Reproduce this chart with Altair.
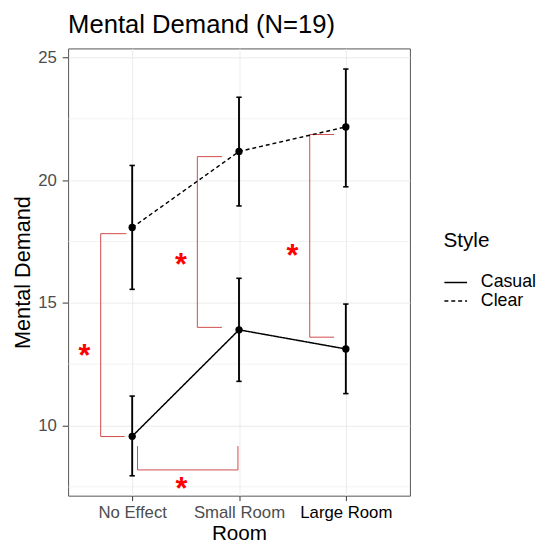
import altair as alt
import pandas as pd

FONT = "Liberation Sans"

rooms = ["No Effect", "Small Room", "Large Room"]
room_pos = [1, 2, 3]
styles = ["Casual", "Clear"]

casual_mean = [9.56, 13.90, 13.12]
casual_lo = [7.95, 11.80, 11.30]
casual_hi = [11.20, 16.00, 14.95]

clear_mean = [18.07, 21.17, 22.17]
clear_lo = [15.55, 18.95, 19.73]
clear_hi = [20.60, 23.38, 24.53]

# significance bracket segments (data coordinates)
br_x = [0.705, 0.705, 0.705, 1.05, 1.05, 1.99, 1.61, 1.61, 1.61, 2.662, 2.662, 2.662]
br_x2 = [0.705, 0.945, 0.93, 1.99, 1.05, 1.99, 1.61, 1.84, 1.84, 2.662, 2.89, 2.89]
br_y = [9.55, 17.82, 9.55, 8.19, 8.19, 8.19, 14.0, 20.96, 14.0, 13.6, 21.86, 13.6]
br_y2 = [17.82, 17.82, 9.55, 8.19, 9.16, 9.16, 20.96, 20.96, 14.0, 21.86, 21.86, 13.6]

star_x = [0.552, 1.46, 1.457, 2.50]
star_y = [13.1, 7.69, 16.83, 17.2]

major_ticks = [10, 15, 20, 25]
minor_grid = [7.5, 12.5, 17.5, 22.5]

rows = []
for i, r in enumerate(rooms):
    rows.append(dict(room=r, x=room_pos[i], Style="Casual", mean=casual_mean[i],
                     lo=casual_lo[i], hi=casual_hi[i]))
    rows.append(dict(room=r, x=room_pos[i], Style="Clear", mean=clear_mean[i],
                     lo=clear_lo[i], hi=clear_hi[i]))
df = pd.DataFrame(rows)
df["xl"] = df["x"] - 0.025
df["xr"] = df["x"] + 0.025

br_df = pd.DataFrame(dict(x=br_x, x2=br_x2, y=br_y, y2=br_y2))
star_df = pd.DataFrame(dict(x=star_x, y=star_y, t=["*"] * len(star_x)))
minor_df = pd.DataFrame(dict(y=minor_grid))

label_expr = " : ".join(
    [f"datum.value == {p} ? '{r}'" for p, r in zip(room_pos[:-1], rooms[:-1])]
) + f" : '{rooms[-1]}'"

xscale = alt.Scale(domain=[0.4, 3.6], nice=False, zero=False)
yscale = alt.Scale(domain=[7.14, 25.37], nice=False, zero=False)

xaxis = alt.Axis(
    values=room_pos, labelExpr=label_expr, title="Room",
    grid=True, gridColor="#EBEBEB", gridWidth=1,
    domain=False, tickColor="#333333", tickSize=5, tickWidth=1,
    labelFont=FONT, labelFontSize=17,
    labelColor={"condition": {"test": "datum.value == 3", "value": "#000000"}, "value": "#4D4D4D"},
    labelPadding=4, titleFont=FONT, titleFontSize=21, titleFontWeight="normal",
    titleColor="#000000", titlePadding=2,
)
yaxis = alt.Axis(
    values=major_ticks, title="Mental Demand",
    grid=True, gridColor="#EBEBEB", gridWidth=1,
    domain=False, tickColor="#333333", tickSize=6, tickWidth=1,
    labelFont=FONT, labelFontSize=17, labelColor="#4D4D4D", labelPadding=6,
    titleFont=FONT, titleFontSize=22, titleFontWeight="normal",
    titleColor="#000000", titlePadding=3,
)

base = alt.Chart(df)

minor = alt.Chart(minor_df).mark_rule(color="#EBEBEB", strokeWidth=0.6).encode(
    y=alt.Y("y:Q", scale=yscale, axis=yaxis)
)

brackets = alt.Chart(br_df).mark_rule(color="#D24A4A", strokeWidth=1).encode(
    x=alt.X("x:Q", scale=xscale, axis=xaxis),
    x2="x2:Q",
    y=alt.Y("y:Q", scale=yscale, axis=yaxis),
    y2="y2:Q",
)

ebar = base.mark_rule(color="black", strokeWidth=1.9).encode(
    x=alt.X("x:Q", scale=xscale, axis=xaxis),
    y=alt.Y("lo:Q", scale=yscale, axis=yaxis),
    y2="hi:Q",
)
cap_lo = base.mark_rule(color="black", strokeWidth=1.6).encode(
    x=alt.X("xl:Q", scale=xscale, axis=xaxis), x2="xr:Q",
    y=alt.Y("lo:Q", scale=yscale, axis=yaxis),
)
cap_hi = base.mark_rule(color="black", strokeWidth=1.6).encode(
    x=alt.X("xl:Q", scale=xscale, axis=xaxis), x2="xr:Q",
    y=alt.Y("hi:Q", scale=yscale, axis=yaxis),
)

lines = base.mark_line(color="black", strokeWidth=1.5).encode(
    x=alt.X("x:Q", scale=xscale, axis=xaxis),
    y=alt.Y("mean:Q", scale=yscale, axis=yaxis),
    strokeDash=alt.StrokeDash(
        "Style:N",
        scale=alt.Scale(domain=styles, range=[[1, 0], [4, 3]]),
        legend=alt.Legend(
            title="Style", orient="none", legendX=381, legendY=185,
            titleFont=FONT, titleFontSize=21, titleFontWeight="normal", titleColor="#000000",
            titlePadding=22, labelFont=FONT, labelFontSize=18, labelColor="#000000",
            symbolType="stroke", symbolSize=529, symbolStrokeWidth=1.5,
            symbolStrokeColor="black", labelOffset=13, clipHeight=19, rowPadding=0,
        ),
    ),
    detail="Style:N",
)

points = base.mark_circle(color="black", size=55, opacity=1).encode(
    x=alt.X("x:Q", scale=xscale, axis=xaxis),
    y=alt.Y("mean:Q", scale=yscale, axis=yaxis),
)

stars = alt.Chart(star_df).mark_text(
    color="#FF0000", font=FONT, fontSize=31, fontWeight="bold",
    baseline="alphabetic", align="center", dy=17,
).encode(
    x=alt.X("x:Q", scale=xscale, axis=xaxis),
    y=alt.Y("y:Q", scale=yscale, axis=yaxis),
    text="t:N",
)

chart = alt.layer(minor, brackets, ebar, cap_lo, cap_hi, lines, points, stars).properties(
    width=347, height=454,
    title=alt.TitleParams(
        "Mental Demand (N=19)", anchor="start", frame="group", font=FONT,
        fontSize=26, fontWeight="normal", color="#000000", baseline="alphabetic",
        offset=16, dy=26,
    ),
    autosize=alt.AutoSizeParams(type="none"),
    padding={"left": 61, "top": 37, "right": 129, "bottom": 44},
).configure_view(stroke="#555555", strokeWidth=1)

chart.save("out.html", embed_options={"renderer": "svg", "actions": False})
